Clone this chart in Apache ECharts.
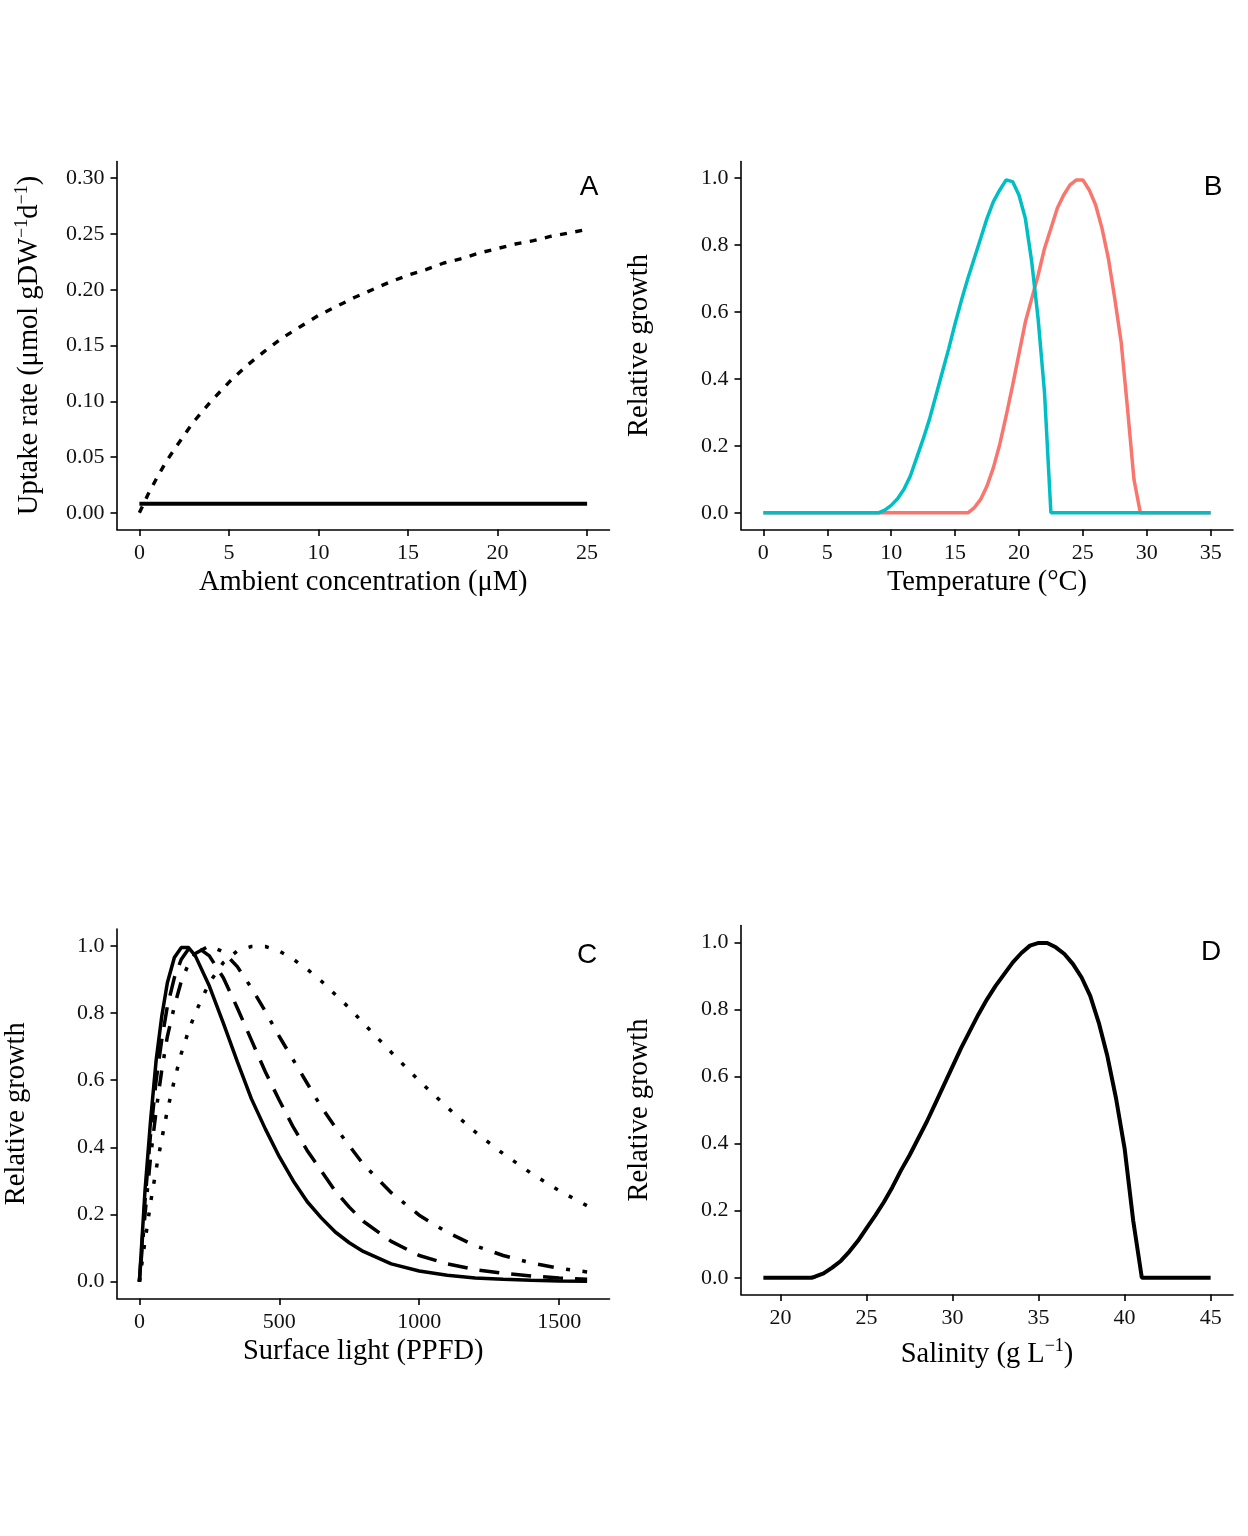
<!DOCTYPE html>
<html lang="en">
<head>
<meta charset="UTF-8">
<title>Uptake and growth response curves</title>
<script src="https://cdn.jsdelivr.net/npm/echarts@6.0.0/dist/echarts.min.js"></script>
<style>
  html, body { margin: 0; padding: 0; background: #fff; }
  #chart { width: 1248px; height: 1536px; }
</style>
</head>
<body>
<div id="chart"></div>
<script>
// ---- panel A: uptake rate vs ambient concentration
var concA = [0, 0.5, 1, 1.5, 2, 3, 4, 5, 6, 7, 8, 9, 10, 11, 12, 13, 14, 15, 16, 17, 18, 19, 20, 21, 22, 23, 24, 25];
var uptakeDashed = [0, 0.017, 0.032, 0.046, 0.058, 0.081, 0.100, 0.117, 0.132, 0.145, 0.157, 0.167, 0.177, 0.185, 0.193, 0.200, 0.207, 0.213, 0.218, 0.224, 0.228, 0.233, 0.237, 0.241, 0.244, 0.248, 0.251, 0.254];
var concSolid = [0, 25];
var uptakeSolid = [0.008, 0.008];
var ticksA_x = [0, 5, 10, 15, 20, 25];
var ticksA_y = [0, 0.05, 0.10, 0.15, 0.20, 0.25, 0.30];

// ---- panel B: relative growth vs temperature
var tempB = [0, 9, 9.5, 10, 10.5, 11, 11.5, 12, 12.5, 13, 13.5, 14, 14.5, 15, 15.5, 16, 16.5, 17, 17.5, 18, 18.5, 19, 19.5, 20, 20.5, 21, 21.5, 22, 22.5, 23, 23.5, 24, 24.5, 25, 25.5, 26, 26.5, 27, 27.5, 28, 28.5, 29, 29.5, 30, 35];
var growthCool = [0, 0, 0.008, 0.022, 0.042, 0.07, 0.11, 0.165, 0.22, 0.28, 0.35, 0.42, 0.49, 0.565, 0.635, 0.70, 0.76, 0.82, 0.88, 0.93, 0.965, 0.995, 0.99, 0.95, 0.88, 0.75, 0.58, 0.36, 0, 0, 0, 0, 0, 0, 0, 0, 0, 0, 0, 0, 0, 0, 0, 0, 0];
var growthWarm = [0, 0, 0, 0, 0, 0, 0, 0, 0, 0, 0, 0, 0, 0, 0, 0, 0.015, 0.04, 0.08, 0.135, 0.205, 0.29, 0.38, 0.475, 0.57, 0.64, 0.71, 0.79, 0.85, 0.91, 0.95, 0.98, 0.995, 0.995, 0.965, 0.92, 0.85, 0.76, 0.64, 0.51, 0.31, 0.10, 0, 0, 0];
var ticksB_x = [0, 5, 10, 15, 20, 25, 30, 35];

// ---- panel C: relative growth vs surface light
var lightC = [0, 20, 40, 60, 80, 100, 125, 150, 175, 200, 250, 300, 350, 400, 450, 500, 550, 600, 650, 700, 750, 800, 900, 1000, 1100, 1200, 1300, 1400, 1500, 1600];
var growthSolid = [0, 0.27, 0.48, 0.66, 0.79, 0.89, 0.965, 0.995, 0.995, 0.97, 0.88, 0.77, 0.655, 0.545, 0.455, 0.372, 0.30, 0.238, 0.19, 0.148, 0.116, 0.09, 0.053, 0.032, 0.019, 0.011, 0.007, 0.004, 0.002, 0.001];
var growthLongdash = [0, 0.24, 0.44, 0.60, 0.72, 0.82, 0.905, 0.96, 0.99, 1.0, 0.97, 0.905, 0.815, 0.72, 0.625, 0.54, 0.46, 0.39, 0.33, 0.27, 0.222, 0.18, 0.12, 0.078, 0.053, 0.036, 0.025, 0.017, 0.011, 0.007];
var growthDotdash = [0, 0.20, 0.37, 0.51, 0.63, 0.73, 0.82, 0.895, 0.945, 0.977, 1.0, 0.982, 0.938, 0.875, 0.805, 0.73, 0.66, 0.59, 0.52, 0.46, 0.405, 0.35, 0.265, 0.198, 0.147, 0.107, 0.078, 0.056, 0.040, 0.029];
var growthDotted = [0, 0.12, 0.235, 0.335, 0.425, 0.51, 0.60, 0.68, 0.745, 0.80, 0.89, 0.95, 0.985, 0.998, 0.998, 0.984, 0.96, 0.93, 0.895, 0.855, 0.815, 0.77, 0.683, 0.598, 0.519, 0.446, 0.381, 0.323, 0.271, 0.226];
var ticksC_x = [0, 500, 1000, 1500];

// ---- panel D: relative growth vs salinity
var salD = [19, 20, 21, 21.8, 22, 22.5, 23, 23.5, 24, 24.5, 25, 25.5, 26, 26.5, 27, 27.5, 28, 28.5, 29, 29.5, 30, 30.5, 31, 31.5, 32, 32.5, 33, 33.5, 34, 34.5, 35, 35.5, 36, 36.5, 37, 37.5, 38, 38.5, 39, 39.5, 40, 40.5, 41, 45];
var growthSal = [0, 0, 0, 0, 0.003, 0.013, 0.03, 0.05, 0.078, 0.11, 0.148, 0.185, 0.225, 0.27, 0.32, 0.365, 0.415, 0.465, 0.52, 0.575, 0.63, 0.685, 0.735, 0.785, 0.83, 0.87, 0.905, 0.94, 0.968, 0.99, 0.998, 0.998, 0.985, 0.965, 0.935, 0.895, 0.84, 0.76, 0.66, 0.535, 0.385, 0.17, 0, 0];
var ticksD_x = [20, 25, 30, 35, 40, 45];

var ticksRel = [0, 0.2, 0.4, 0.6, 0.8, 1.0];

var SERIF = 'Liberation Serif, Times New Roman, serif';
var SANS = 'Liberation Sans, Arial, sans-serif';

function zip(xs, ys) {
  var out = [];
  for (var i = 0; i < xs.length; i++) out.push([xs[i], ys[i]]);
  return out;
}

var titleRich = {
  t: { fontFamily: SERIF, fontSize: 28.5, color: '#000', lineHeight: 34 },
  s: { fontFamily: SERIF, fontSize: 18, color: '#000', verticalAlign: 'top', lineHeight: 18 }
};

function axisCommon(grid, min, max, ticks, fmt, name, gap) {
  return {
    type: 'value', gridIndex: grid, min: min, max: max,
    splitLine: { show: false },
    axisLine: { show: true, onZero: false, lineStyle: { color: '#000', width: 1.6 } },
    axisTick: { show: true, length: 6.5, customValues: ticks, lineStyle: { color: '#000', width: 1.6 } },
    axisLabel: { customValues: ticks, margin: 12.5, fontFamily: SERIF, fontSize: 22, color: '#111',
                 formatter: fmt },
    name: name, nameLocation: 'middle', nameGap: gap,
    nameTextStyle: { fontFamily: SERIF, fontSize: 28.5, color: '#000', rich: titleRich }
  };
}

var f0 = function (v) { return String(Math.round(v)); };
var f1 = function (v) { return v.toFixed(1); };
var f2 = function (v) { return v.toFixed(2); };

var chart = echarts.init(document.getElementById('chart'), null, { renderer: 'canvas' });

function letter(txt, x, y) {
  return { type: 'text', x: x, y: y,
           style: { text: txt, font: '28px ' + SANS, fill: '#000', align: 'center', verticalAlign: 'middle' } };
}

var option = {
  backgroundColor: '#fff',
  animation: false,
  grid: [
    { left: 117, top: 161.5, width: 492.5, height: 368 },
    { left: 741, top: 161.5, width: 492, height: 368 },
    { left: 117, top: 929, width: 492.5, height: 369.5 },
    { left: 741, top: 925.5, width: 492, height: 369 }
  ],
  xAxis: [
    axisCommon(0, -1.25, 26.25, ticksA_x, f0, 'Ambient concentration (\u03bcM)', 38.5),
    axisCommon(1, -1.75, 36.75, ticksB_x, f0, 'Temperature (\u00b0C)', 38.5),
    axisCommon(2, -80, 1680, ticksC_x, f0, 'Surface light (PPFD)', 38.5),
    axisCommon(3, 17.7, 46.3, ticksD_x, f0, '{t|Salinity (g L}{s|\u22121}{t|)}', 43)
  ],
  yAxis: [
    axisCommon(0, -0.015, 0.315, ticksA_y, f2, '{t|Uptake rate (\u03bcmol gDW}{s|\u22121}{t|d}{s|\u22121}{t|)}', 70),
    axisCommon(1, -0.05, 1.05, ticksRel, f1, 'Relative growth', 87),
    axisCommon(2, -0.05, 1.05, ticksRel, f1, 'Relative growth', 86),
    axisCommon(3, -0.05, 1.05, ticksRel, f1, 'Relative growth', 87)
  ],
  series: [
    { type: 'line', xAxisIndex: 0, yAxisIndex: 0, showSymbol: false, data: zip(concSolid, uptakeSolid),
      lineStyle: { color: '#000', width: 4 } },
    { type: 'line', xAxisIndex: 0, yAxisIndex: 0, showSymbol: false, data: zip(concA, uptakeDashed),
      lineStyle: { color: '#000', width: 3.4, type: [7, 8.5] } },

    { type: 'line', xAxisIndex: 1, yAxisIndex: 1, showSymbol: false, data: zip(tempB, growthWarm),
      lineStyle: { color: '#F8766D', width: 3.5 } },
    { type: 'line', xAxisIndex: 1, yAxisIndex: 1, showSymbol: false, data: zip(tempB, growthCool),
      lineStyle: { color: '#00BFC4', width: 3.5 } },

    { type: 'line', xAxisIndex: 2, yAxisIndex: 2, showSymbol: false, data: zip(lightC, growthDotted),
      lineStyle: { color: '#000', width: 3.5, type: [4, 12.5] } },
    { type: 'line', xAxisIndex: 2, yAxisIndex: 2, showSymbol: false, data: zip(lightC, growthDotdash),
      lineStyle: { color: '#000', width: 3.5, type: [4, 12.5, 16, 12.5] } },
    { type: 'line', xAxisIndex: 2, yAxisIndex: 2, showSymbol: false, data: zip(lightC, growthLongdash),
      lineStyle: { color: '#000', width: 3.5, type: [20, 12] } },
    { type: 'line', xAxisIndex: 2, yAxisIndex: 2, showSymbol: false, data: zip(lightC, growthSolid),
      lineStyle: { color: '#000', width: 3.5 } },

    { type: 'line', xAxisIndex: 3, yAxisIndex: 3, showSymbol: false, data: zip(salD, growthSal),
      lineStyle: { color: '#000', width: 4 } }
  ],
  graphic: [
    letter('A', 589, 187),
    letter('B', 1213, 187),
    letter('C', 587, 955),
    letter('D', 1211, 952)
  ]
};

chart.setOption(option);
</script>
</body>
</html>
